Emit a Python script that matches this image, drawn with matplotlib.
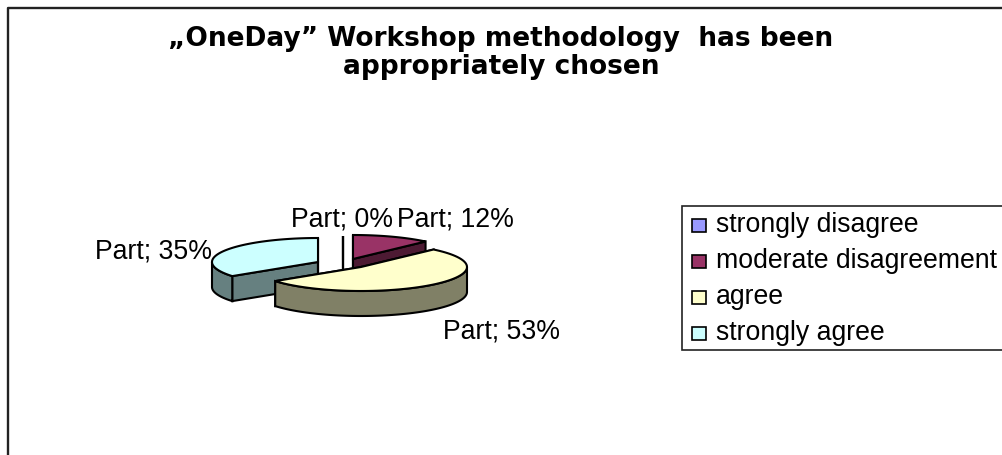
import numpy as np
from matplotlib import pyplot as plt
from matplotlib.patches import Polygon, Rectangle

title = "„OneDay” Workshop methodology  has been\nappropriately chosen"
categories = ['strongly disagree', 'moderate disagreement', 'agree', 'strongly agree']
shares = [0, 12, 53, 35]
top_colors = ['#9999FF', '#993366', '#FFFFCC', '#CCFFFF']
side_colors = ['#4D4D80', '#4D1A33', '#808066', '#668080']

# pixel layout of the fake 3d pie
apex = [(343, 260), (353, 259), (361, 267), (318, 262)]
label_pos = [(291, 219), (397, 219), (443, 331), (95, 251)]
rx, ry, depth = 106, 24, 25


def rim(start, end, cx, cy):
    # angles in degrees, clockwise from 12 o'clock
    t = np.radians(np.linspace(start, end, 80))
    return np.column_stack([cx + rx * np.sin(t), cy - ry * np.cos(t)])


def draw_slice(ax, start, end, center, top, side):
    cx, cy = center
    drop = np.array([0, depth])

    # cut faces
    for a in (start, end):
        p = rim(a, a, cx, cy)[0]
        face = [(cx, cy), p, p + drop, (cx, cy + depth)]
        ax.add_patch(Polygon(face, closed=True, fc=side, ec='black', lw=1.5))

    # outer wall, only the front part shows
    lo, hi = max(start, 90), min(end, 270)
    if lo < hi:
        r = rim(lo, hi, cx, cy)
        wall = np.vstack([r, r[::-1] + drop])
        ax.add_patch(Polygon(wall, closed=True, fc=side, ec='black', lw=1.5))

    pts = np.vstack([[(cx, cy)], rim(start, end, cx, cy)])
    ax.add_patch(Polygon(pts, closed=True, fc=top, ec='black', lw=1.5))


def main():
    plt.rcParams['font.family'] = ['Liberation Sans', 'DejaVu Sans']

    fig = plt.figure(figsize=(10.02, 4.55), dpi=100)
    ax = fig.add_axes([0, 0, 1, 1])
    ax.set_xlim(0, 1002)
    ax.set_ylim(455, 0)
    ax.axis('off')

    # chart frame runs off the right and bottom of the picture
    ax.plot([8.5, 8.5, 1010], [460, 7.5, 7.5], color='#222222', lw=1.7)

    ax.text(501, 53, title, ha='center', va='center', fontsize=19,
            fontweight='bold', family=['DejaVu Sans'], linespacing=1.15)

    edges = np.cumsum([0] + shares) * 3.6

    # back slices first, the yellow one sits in front
    for i in [0, 1, 3, 2]:
        draw_slice(ax, edges[i], edges[i + 1], apex[i], top_colors[i], side_colors[i])

    for share, (x, y) in zip(shares, label_pos):
        ax.text(x, y, f'Part; {share}%', ha='left', va='center', fontsize=19.2, color='black')

    # legend
    ax.add_patch(Rectangle((682, 206), 340, 144, fc='white', ec='#222222', lw=1.2))
    for i, name in enumerate(categories):
        y = 225 + i * 36
        ax.add_patch(Rectangle((692, y - 6.5), 14, 13, fc=top_colors[i], ec='black', lw=1.2))
        ax.text(716, y, name, ha='left', va='center', fontsize=19.2, color='black')

    plt.savefig('out.png', dpi=100)


if __name__ == "__main__":
    main()
